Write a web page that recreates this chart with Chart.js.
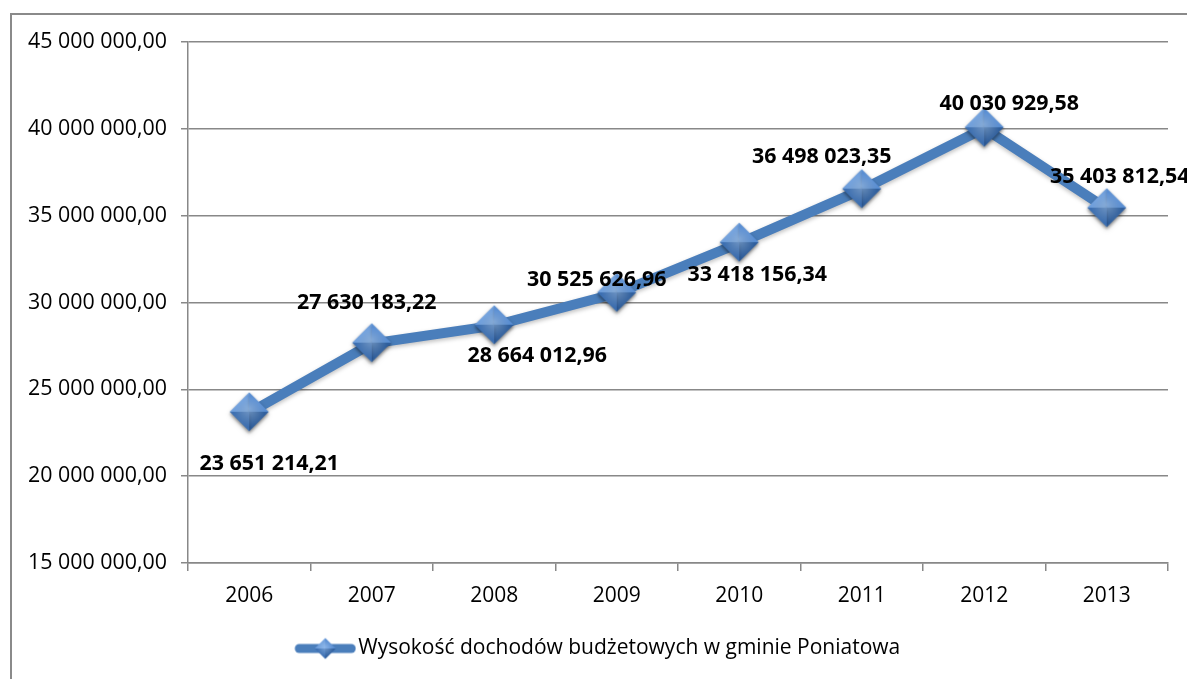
<!DOCTYPE html>
<html>
<head>
<meta charset="utf-8">
<script src="https://cdn.jsdelivr.net/npm/chart.js@4.4.1/dist/chart.umd.min.js"></script>
<style>
  html, body { margin: 0; padding: 0; background: #fff; }
  #wrap { position: relative; width: 1187px; height: 679px; overflow: hidden; }
  #frame { position: absolute; left: 10px; top: 13px; width: 1300px; height: 800px; border: 2px solid #8a8a8a; box-sizing: border-box; }
  canvas { position: absolute; left: 0; top: 0; }
</style>
</head>
<body>
<div id="wrap">
  <div id="frame"></div>
  <canvas id="c" width="1187" height="679"></canvas>
</div>
<script>
const categories = ['2006', '2007', '2008', '2009', '2010', '2011', '2012', '2013'];
const seriesName = 'Wysokość dochodów budżetowych w gminie Poniatowa';
const revenues = [23651214.21, 27630183.22, 28664012.96, 30525626.96, 33418156.34, 36498023.35, 40030929.58, 35403812.54];
const yTicks = [15000000, 20000000, 25000000, 30000000, 35000000, 40000000, 45000000];

// label placement (pixel offsets from the point), styling only
const labelOffsets = [[20, 51], [-5, -41], [43, 30], [-20, -13], [18, 32], [-40, -33], [25, -24], [13, -32]];

const FONT = "'Open Sans', 'DejaVu Sans', sans-serif";

function fmt(v) {
  const fixed = v.toFixed(2);
  let [intPart, dec] = fixed.split('.');
  intPart = intPart.replace(/\B(?=(\d{3})+(?!\d))/g, ' ');
  return intPart + ',' + dec;
}

function drawDiamond(ctx, cx, cy, r) {
  const top = [cx, cy - r], right = [cx + r, cy], bottom = [cx, cy + r], left = [cx - r, cy];
  const c = [cx, cy];
  const facets = [
    [left, top, '#6f9fdc'],
    [top, right, '#5a8ed2'],
    [right, bottom, '#2f5f9e'],
    [bottom, left, '#3c6fb2']
  ];
  facets.forEach(([a, b, col]) => {
    ctx.beginPath();
    ctx.moveTo(c[0], c[1]);
    ctx.lineTo(a[0], a[1]);
    ctx.lineTo(b[0], b[1]);
    ctx.closePath();
    ctx.fillStyle = col;
    ctx.fill();
  });
  const g = ctx.createRadialGradient(cx, cy - r * 0.15, 0, cx, cy, r * 0.8);
  g.addColorStop(0, 'rgba(170,205,245,0.55)');
  g.addColorStop(1, 'rgba(170,205,245,0)');
  ctx.beginPath();
  ctx.moveTo(top[0], top[1]); ctx.lineTo(right[0], right[1]); ctx.lineTo(bottom[0], bottom[1]); ctx.lineTo(left[0], left[1]); ctx.closePath();
  ctx.fillStyle = g;
  ctx.fill();
}

const marker = document.createElement('canvas');
marker.width = 44; marker.height = 46;
(function () {
  const m = marker.getContext('2d');
  m.shadowColor = 'rgba(0,0,0,0.3)';
  m.shadowBlur = 3;
  m.shadowOffsetY = 2;
  drawDiamond(m, 22, 22, 19.5);
})();

// legend icon: 97px wide image, visible line+diamond on its right 62px
const legendIcon = document.createElement('canvas');
legendIcon.width = 97; legendIcon.height = 24;
(function () {
  const m = legendIcon.getContext('2d');
  m.strokeStyle = '#4a7ebb';
  m.lineWidth = 9;
  m.lineCap = 'round';
  m.beginPath(); m.moveTo(40, 12); m.lineTo(92, 12); m.stroke();
  drawDiamond(m, 66, 12, 10.5);
})();

const labelPlugin = {
  id: 'valueLabels',
  afterDatasetsDraw(chart) {
    const ctx = chart.ctx;
    const meta = chart.getDatasetMeta(0);
    ctx.save();
    ctx.font = 'bold 21.4px ' + FONT;
    ctx.fillStyle = '#000';
    ctx.textAlign = 'center';
    ctx.textBaseline = 'middle';
    meta.data.forEach((pt, i) => {
      const [dx, dy] = labelOffsets[i];
      ctx.fillText(fmt(revenues[i]), pt.x + dx, pt.y + dy);
    });
    ctx.restore();
  }
};

const shadowPlugin = {
  id: 'lineShadow',
  beforeDatasetDraw(chart) {
    const ctx = chart.ctx;
    ctx.save();
    ctx.shadowColor = 'rgba(0,0,0,0.25)';
    ctx.shadowBlur = 4;
    ctx.shadowOffsetY = 2;
  },
  afterDatasetDraw(chart) {
    chart.ctx.restore();
  }
};

new Chart(document.getElementById('c'), {
  type: 'line',
  data: {
    labels: categories,
    datasets: [{
      label: seriesName,
      data: revenues,
      borderColor: '#4a7ebb',
      backgroundColor: '#4a7ebb',
      borderWidth: 10,
      tension: 0,
      pointStyle: marker,
      pointRadius: 20,
      pointHoverRadius: 20,
      fill: false
    }]
  },
  options: {
    responsive: false,
    animation: false,
    devicePixelRatio: 1,
    layout: { autoPadding: false, padding: { top: 42, right: 19, bottom: 10, left: 0 } },
    plugins: {
      legend: {
        position: 'bottom',
        labels: {
          usePointStyle: true,
          pointStyle: legendIcon,
          pointStyleWidth: 80,
          color: '#000',
          font: { family: FONT, size: 21 },
          padding: 12
        }
      },
      tooltip: { enabled: false }
    },
    scales: {
      x: {
        offset: true,
        grid: { offset: true, drawOnChartArea: false, color: '#888', lineWidth: 1.5, tickLength: 8 },
        border: { color: '#888', width: 1.5 },
        ticks: { color: '#000', font: { family: FONT, size: 21 }, padding: 12 },
        afterFit(s) { s.height = 63; }
      },
      y: {
        min: 15000000,
        max: 45000000,
        afterBuildTicks(s) { s.ticks = yTicks.map(v => ({ value: v })); },
        grid: { color: '#888', lineWidth: 1.5, tickLength: 7 },
        border: { color: '#888', width: 1.5 },
        ticks: { color: '#000', font: { family: FONT, size: 21.4 }, padding: 14, callback: v => fmt(v) },
        afterFit(s) { s.width = 188; }
      }
    }
  },
  plugins: [shadowPlugin, labelPlugin]
});
</script>
</body>
</html>
